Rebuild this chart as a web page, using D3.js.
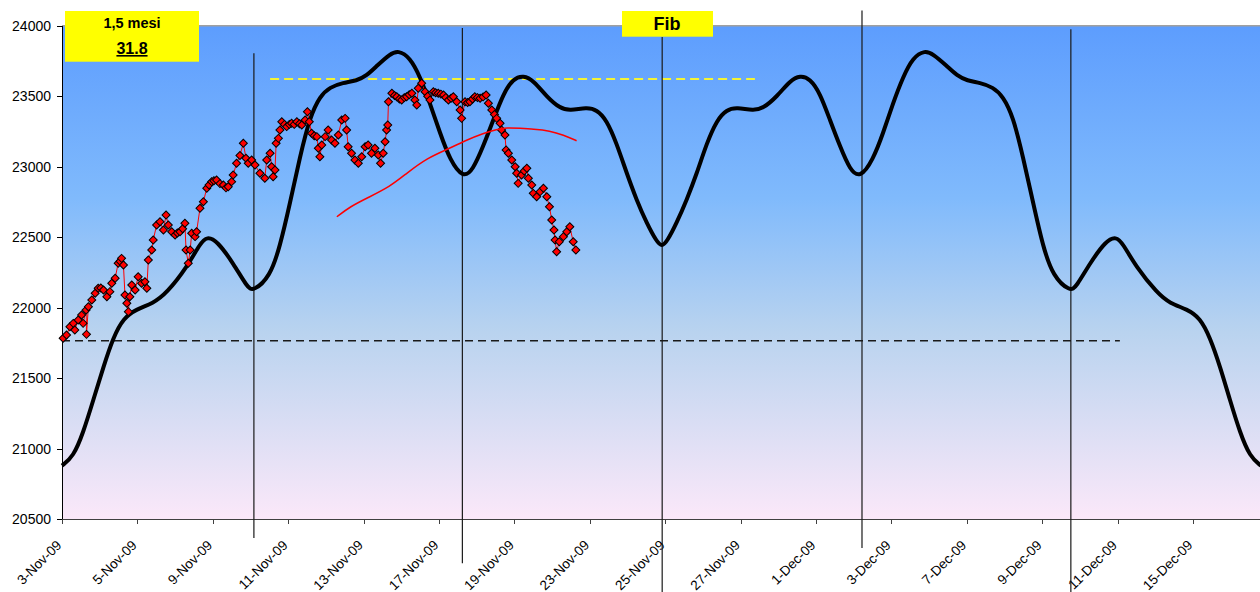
<!DOCTYPE html>
<html lang="en">
<head>
    <meta charset="UTF-8">
    <title>Fib cycle 1,5 mesi</title>
    <style>
        html, body {
            margin: 0;
            padding: 0;
            background: #fff
        }
        svg {
            display: block;
            font-family: Arial, "Liberation Sans", sans-serif
        }
        svg .axis text {
            font-size: 14px;
            fill: #000
        }
        svg .x-axis text {
            font-size: 13.6px
        }
        svg .axis path,
        svg .axis line {
            stroke: #000;
            stroke-width: 1px;
            shape-rendering: crispEdges
        }
        svg .x-axis path,
        svg .x-axis line {
            stroke: #404040
        }
        svg .vline {
            stroke: #1a1a1a;
            stroke-width: 1.2px
        }
        svg .cycle {
            fill: none;
            stroke: #000;
            stroke-width: 4px
        }
        svg .price {
            fill: none;
            stroke: #ff0000;
            stroke-width: 1px
        }
        svg .marker {
            fill: #ff0000;
            stroke: #000;
            stroke-width: 1px
        }
        svg .avg {
            fill: none;
            stroke: #ff0000;
            stroke-width: 1.5px
        }
        svg .box {
            fill: #ffff00
        }
        svg .box-text {
            font-weight: bold;
            text-anchor: middle;
            fill: #000
        }
    </style>
</head>
<body>

<div id="chart"></div>

<script src="https://cdnjs.cloudflare.com/ajax/libs/d3/7.8.5/d3.min.js"></script>
<script>
  // x is counted in trading days from 3-Nov-09, a label every 2 days
  var tickLabels = ['3-Nov-09', '5-Nov-09', '9-Nov-09', '11-Nov-09', '13-Nov-09', '17-Nov-09',
    '19-Nov-09', '23-Nov-09', '25-Nov-09', '27-Nov-09', '1-Dec-09', '3-Dec-09', '7-Dec-09',
    '9-Dec-09', '11-Dec-09', '15-Dec-09'];
  var tickDays = [0, 2, 4, 6, 8, 10, 12, 14, 16, 18, 20, 22, 24, 26, 28, 30];
  var yTicks = [20500, 21000, 21500, 22000, 22500, 23000, 23500, 24000];

  var cycleLength = 31.8;

  // intraday index [day, value]
  var price = [
    [0.03, 21783], [0.12, 21806], [0.21, 21865], [0.30, 21889], [0.34, 21842], [0.43, 21913],
    [0.52, 21948], [0.56, 21889], [0.64, 21984], [0.65, 21811], [0.70, 22007], [0.79, 22055],
    [0.88, 22102], [0.96, 22138], [1.03, 22140], [1.10, 22126], [1.19, 22078], [1.27, 22114],
    [1.32, 22173], [1.41, 22209], [1.49, 22315], [1.54, 22330], [1.58, 22350], [1.63, 22303],
    [1.67, 22090], [1.72, 22031], [1.76, 21972], [1.80, 22078], [1.85, 22161], [1.94, 22126],
    [2.02, 22220], [2.11, 22173], [2.20, 22184], [2.25, 22138], [2.29, 22338], [2.38, 22409],
    [2.42, 22480], [2.51, 22587], [2.60, 22610], [2.69, 22551], [2.76, 22657], [2.82, 22587],
    [2.91, 22539], [3.00, 22516], [3.06, 22530], [3.13, 22539], [3.20, 22560], [3.26, 22599],
    [3.29, 22409], [3.35, 22315], [3.40, 22409], [3.44, 22528], [3.53, 22504], [3.57, 22539],
    [3.66, 22705], [3.75, 22752], [3.84, 22847], [3.90, 22870], [3.97, 22894], [4.03, 22900],
    [4.10, 22906], [4.19, 22880], [4.28, 22870], [4.35, 22850], [4.41, 22858], [4.50, 22894],
    [4.54, 22941], [4.63, 23024], [4.72, 23080], [4.81, 23166], [4.88, 23060], [4.94, 23024],
    [5.03, 23048], [5.12, 23012], [5.25, 22953], [5.38, 22918], [5.43, 23048], [5.52, 23095],
    [5.56, 23000], [5.60, 22929], [5.65, 22977], [5.68, 23166], [5.74, 23201], [5.78, 23260],
    [5.83, 23319], [5.90, 23300], [5.96, 23284], [6.03, 23300], [6.09, 23308], [6.16, 23300],
    [6.23, 23319], [6.30, 23305], [6.36, 23296], [6.45, 23331], [6.51, 23390], [6.56, 23319],
    [6.62, 23237], [6.69, 23220], [6.76, 23213], [6.80, 23131], [6.84, 23071], [6.89, 23154],
    [6.98, 23213], [7.06, 23260], [7.15, 23189], [7.24, 23166], [7.33, 23225], [7.42, 23331],
    [7.51, 23343], [7.55, 23260], [7.59, 23142], [7.68, 23095], [7.77, 23048], [7.86, 23024],
    [7.95, 23071], [8.04, 23142], [8.12, 23154], [8.21, 23095], [8.30, 23131], [8.39, 23083],
    [8.45, 23024], [8.52, 23095], [8.57, 23177], [8.61, 23260], [8.64, 23296], [8.66, 23461],
    [8.75, 23521], [8.82, 23505], [8.88, 23496], [8.95, 23480], [9.01, 23473], [9.08, 23490],
    [9.14, 23496], [9.21, 23510], [9.28, 23521], [9.36, 23473], [9.41, 23438], [9.45, 23556],
    [9.54, 23592], [9.63, 23532], [9.70, 23500], [9.76, 23473], [9.85, 23532], [9.91, 23525],
    [9.98, 23521], [10.05, 23515], [10.12, 23509], [10.18, 23490], [10.25, 23473], [10.32, 23485],
    [10.38, 23496], [10.47, 23461], [10.56, 23402], [10.60, 23343], [10.69, 23461], [10.76, 23455],
    [10.82, 23461], [10.89, 23480], [10.95, 23496], [11.02, 23490], [11.09, 23485], [11.17, 23495],
    [11.25, 23509], [11.31, 23450], [11.40, 23402], [11.47, 23370], [11.53, 23343], [11.62, 23308],
    [11.66, 23260], [11.75, 23225], [11.78, 23118], [11.84, 23095], [11.93, 23048], [12.02, 23000],
    [12.06, 22953], [12.10, 22882], [12.19, 22941], [12.26, 22970], [12.33, 22989], [12.37, 22918],
    [12.46, 22870], [12.50, 22811], [12.59, 22787], [12.68, 22823], [12.77, 22847], [12.86, 22787],
    [12.93, 22716], [12.99, 22622], [13.05, 22551], [13.08, 22480], [13.12, 22397], [13.19, 22468],
    [13.30, 22504], [13.39, 22539], [13.47, 22574], [13.56, 22468], [13.63, 22409]
  ];

  // smoothed average [day, value]
  var average = [
    [7.29, 22645], [7.64, 22716], [8.08, 22776], [8.70, 22858], [9.14, 22953], [9.67, 23060],
    [10.29, 23131], [10.73, 23189], [11.18, 23237], [11.53, 23265], [11.80, 23277], [12.15, 23272],
    [12.50, 23267], [12.94, 23255], [13.30, 23225], [13.65, 23184]
  ];

  // projected cycle [day, value]
  var cycle = [
    [0.00, 20880], [0.30, 20943], [0.56, 21111], [0.83, 21345], [1.10, 21582], [1.36, 21790],
    [1.63, 21927], [1.98, 21990], [2.41, 22030], [2.78, 22104], [3.32, 22289], [3.66, 22455],
    [3.85, 22505], [4.11, 22475], [4.54, 22317], [4.91, 22147], [5.07, 22115], [5.52, 22220],
    [5.78, 22433], [6.05, 22743], [6.31, 23071], [6.58, 23355], [6.84, 23500], [7.11, 23565],
    [7.45, 23595], [7.82, 23610], [8.08, 23645], [8.35, 23715], [8.70, 23800], [8.92, 23825],
    [9.23, 23775], [9.50, 23638], [9.76, 23450], [10.03, 23237], [10.29, 23048], [10.64, 22918],
    [10.90, 22977], [11.17, 23142], [11.44, 23331], [11.71, 23521], [11.97, 23625], [12.24, 23648],
    [12.51, 23610], [12.86, 23496], [13.21, 23414], [13.47, 23397], [13.92, 23420], [14.18, 23405],
    [14.45, 23331], [14.71, 23166], [14.98, 22953], [15.24, 22764], [15.51, 22599], [15.77, 22470],
    [15.91, 22432], [16.05, 22470], [16.30, 22599], [16.57, 22764], [16.84, 22953], [17.10, 23166],
    [17.37, 23331], [17.63, 23405], [17.90, 23420], [18.34, 23397], [18.60, 23414], [18.96, 23496],
    [19.31, 23610], [19.58, 23648], [19.84, 23625], [20.11, 23521], [20.37, 23331], [20.64, 23142],
    [20.90, 22977], [21.17, 22918], [21.51, 23048], [21.78, 23237], [22.04, 23450], [22.31, 23638],
    [22.57, 23775], [22.89, 23825], [23.10, 23800], [23.47, 23715], [23.74, 23645], [24.01, 23610],
    [24.35, 23595], [24.69, 23565], [24.96, 23500], [25.23, 23355], [25.49, 23071], [25.76, 22743],
    [26.02, 22433], [26.29, 22220], [26.74, 22115], [26.90, 22147], [27.27, 22317], [27.69, 22475],
    [27.96, 22505], [28.14, 22455], [28.49, 22289], [29.05, 22104], [29.39, 22030], [29.84, 21990],
    [30.19, 21927], [30.45, 21790], [30.72, 21582], [30.98, 21345], [31.25, 21111], [31.51, 20943],
    [31.80, 20880]
  ];

  // cycle markers [day, top value, bottom value]
  var vlines = [
    [5.09, 23805, 20367],
    [10.62, 23984, 20187],
    [15.92, 23920, 19880],
    [21.22, 24108, 20296],
    [26.76, 23975, 19880]
  ];

  // horizontal levels [from day, to day, value]
  var highLevel = [5.52, 18.38, 23622];
  var lowLevel = [0, 28.06, 21765];

  var width = 1260,
    height = 592,
    plotLeft = 62,
    plotTop = 25.7,
    plotBottom = 519.2,
    dayWidth = 37.7;

  var x = d3.scaleLinear()
    .domain([0, 32])
    .range([plotLeft, plotLeft + 32 * dayWidth]);

  var y = d3.scaleLinear()
    .domain([20500, 24000])
    .range([plotBottom, plotTop]);

  var svg = d3.select('#chart').append('svg')
    .attr('width', width)
    .attr('height', height);

  var grad = svg.append('defs').append('linearGradient')
    .attr('id', 'bg')
    .attr('x1', 0).attr('y1', 0)
    .attr('x2', 0).attr('y2', 1);
  grad.append('stop').attr('offset', '0%').attr('stop-color', '#5d9dfe');
  grad.append('stop').attr('offset', '35%').attr('stop-color', '#80bafc');
  grad.append('stop').attr('offset', '62%').attr('stop-color', '#b9d3ef');
  grad.append('stop').attr('offset', '100%').attr('stop-color', '#fbe8f9');

  svg.append('rect')
    .attr('x', x(0))
    .attr('y', y(24000))
    .attr('width', x(32) - x(0))
    .attr('height', y(20500) - y(24000))
    .attr('fill', 'url(#bg)');

  // top border of the plot area
  svg.append('line')
    .attr('x1', x(0)).attr('x2', x(32))
    .attr('y1', y(24000)).attr('y2', y(24000))
    .attr('stroke', '#a0a0a0')
    .attr('stroke-width', 1.5);

  // axes
  svg.append('g')
    .attr('class', 'axis y-axis')
    .attr('transform', 'translate(' + x(0) + ',0)')
    .call(d3.axisLeft(y).tickValues(yTicks).tickSize(5).tickSizeOuter(0).tickPadding(6)
      .tickFormat(d3.format('d')));

  var xAxis = svg.append('g')
    .attr('class', 'axis x-axis')
    .attr('transform', 'translate(0,' + y(20500) + ')')
    .call(d3.axisBottom(x).tickValues(tickDays).tickSize(5).tickSizeOuter(0)
      .tickFormat(function(d, i) { return tickLabels[i]; }));

  xAxis.selectAll('text')
    .attr('text-anchor', 'end')
    .attr('dy', '0.71em')
    .attr('y', 0)
    .attr('transform', 'translate(-7,20) rotate(-45)');

  // levels
  svg.append('line')
    .attr('x1', x(lowLevel[0])).attr('x2', x(lowLevel[1]))
    .attr('y1', y(lowLevel[2])).attr('y2', y(lowLevel[2]))
    .attr('stroke', '#1a1a1a')
    .attr('stroke-width', 1.5)
    .attr('stroke-dasharray', '8,5');

  svg.append('line')
    .attr('x1', x(highLevel[0])).attr('x2', x(highLevel[1]))
    .attr('y1', y(highLevel[2])).attr('y2', y(highLevel[2]))
    .attr('stroke', '#f4f434')
    .attr('stroke-width', 2)
    .attr('stroke-dasharray', '9,5');

  // cycle markers
  svg.append('g').selectAll('line')
    .data(vlines)
    .enter()
    .append('line')
    .attr('class', 'vline')
    .attr('x1', function(d) { return x(d[0]); })
    .attr('x2', function(d) { return x(d[0]); })
    .attr('y1', function(d) { return y(d[1]); })
    .attr('y2', function(d) { return y(d[2]); });

  // projected cycle
  svg.append('path')
    .datum(cycle)
    .attr('class', 'cycle')
    .attr('d', d3.line()
      .x(function(d) { return x(d[0]); })
      .y(function(d) { return y(d[1]); })
      .curve(d3.curveBasis));

  // index
  svg.append('path')
    .datum(price)
    .attr('class', 'price')
    .attr('d', d3.line()
      .x(function(d) { return x(d[0]); })
      .y(function(d) { return y(d[1]); }));

  svg.append('g').selectAll('path')
    .data(price)
    .enter()
    .append('path')
    .attr('class', 'marker')
    .attr('d', d3.symbol(d3.symbolSquare, 32))
    .attr('transform', function(d) {
      return 'translate(' + x(d[0]) + ',' + y(d[1]) + ') rotate(45)';
    });

  svg.append('path')
    .datum(average)
    .attr('class', 'avg')
    .attr('d', d3.line()
      .x(function(d) { return x(d[0]); })
      .y(function(d) { return y(d[1]); })
      .curve(d3.curveBasis));

  // labels
  var info = svg.append('g');
  info.append('rect')
    .attr('class', 'box')
    .attr('x', 65).attr('y', 11)
    .attr('width', 134).attr('height', 50.7);
  info.append('text')
    .attr('class', 'box-text')
    .attr('x', 132).attr('y', 27.5)
    .style('font-size', '14.5px')
    .text('1,5 mesi');
  info.append('text')
    .attr('class', 'box-text')
    .attr('x', 132).attr('y', 54)
    .style('font-size', '16px')
    .style('text-decoration', 'underline')
    .text(cycleLength.toFixed(1));

  var fib = svg.append('g');
  fib.append('rect')
    .attr('class', 'box')
    .attr('x', 622).attr('y', 11)
    .attr('width', 91).attr('height', 25.7);
  fib.append('text')
    .attr('class', 'box-text')
    .attr('x', 667).attr('y', 29.5)
    .style('font-size', '18px')
    .text('Fib');
</script>

</body>
</html>
